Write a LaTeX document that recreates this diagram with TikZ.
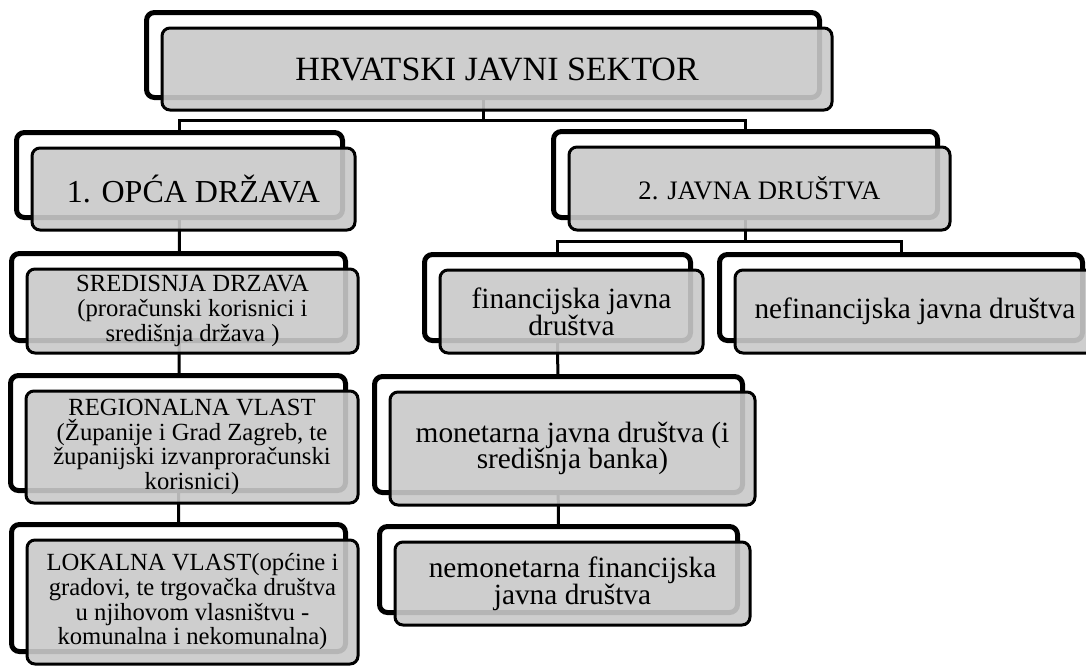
\documentclass[tikz,border=0pt]{standalone}
\usepackage{fontspec}
\setmainfont{Liberation Serif}
\usetikzlibrary{calc,fit}
\pgfdeclarelayer{links}
\pgfdeclarelayer{frames}
\pgfsetlayers{links,frames,main}
\def\px{0.75pt}
\tikzset{
  card/.style={draw=black,line width=2.25pt,rounded corners=6pt,fill=black!21,fill opacity=0.9,text opacity=1,align=center,inner sep=0pt},
  backcard/.style={draw=black,line width=3.75pt,rounded corners=6pt,fill=white,inner sep=0pt},
  link/.style={draw=black,line width=2.25pt},
  headfont/.style={font=\fontsize{#1}{#1}\selectfont},
  chainl/.style={font=\fontsize{18.5}{18.5}\selectfont},
  chainr/.style={font=\fontsize{22}{20}\selectfont}
}
\begin{document}
\begin{tikzpicture}[x=0.75pt,y=-0.75pt]
\useasboundingbox (0,0) rectangle (1086,668);
\node[card,headfont=25.5,minimum width=670*\px,minimum height=82*\px] (top) at (497,69) {HRVATSKI JAVNI SEKTOR};
\node[card,headfont=24,minimum width=323*\px,minimum height=82*\px] (opca) at (193.5,189) {1. OPĆA DRŽAVA};
\node[card,headfont=20,minimum width=381*\px,minimum height=83*\px] (javna) at (759.5,188.5) {2. JAVNA DRUŠTVA};
\node[card,chainl,minimum width=331*\px,minimum height=84*\px] (sred) at (192.5,311) {SREDISNJA DRZAVA\\(proračunski korisnici i\\središnja država )};
\node[card,chainl,minimum width=332*\px,minimum height=112*\px] (reg) at (192,447) {REGIONALNA VLAST\\(Županije i Grad Zagreb, te\\županijski izvanproračunski\\korisnici)};
\node[card,chainl,minimum width=331*\px,minimum height=124*\px] (lok) at (192.5,602) {LOKALNA VLAST(općine i\\gradovi, te trgovačka društva\\u njihovom vlasništvu -\\komunalna i nekomunalna)};
\node[card,chainr,minimum width=263*\px,minimum height=83*\px] (fin) at (571.5,311.5) {financijska javna\\društva};
\node[card,chainr,minimum width=360*\px,minimum height=83*\px] (nefin) at (915,311.5) {nefinancijska javna društva};
\node[card,chainr,minimum width=365*\px,minimum height=113*\px] (mon) at (572.5,448.5) {monetarna javna društva (i\\središnja banka)};
\node[card,chainr,minimum width=355*\px,minimum height=83*\px] (nemon) at (572.5,583.5) {nemonetarna financijska\\javna društva};
\begin{pgfonlayer}{frames}
\foreach \n in {top,opca,javna,sred,reg,lok,fin,nefin,mon,nemon}
  \node[backcard,fit=(\n),xshift=-14*\px,yshift=14*\px] (\n-b) {};
\end{pgfonlayer}
\begin{pgfonlayer}{links}
\coordinate (top-j) at ($(top.south)!.5!(opca-b.north)$);
\coordinate (javna-j) at ($(javna.south)!.5!(fin-b.north)$);
\draw[link] (opca-b.center) |- (top-j) -| (javna-b.center);
\draw[link] (top-b.center) -- (top-b.center |- top-j);
\draw[link] (fin-b.center) |- (javna-j) -| (nefin-b.center);
\draw[link] (javna-b.center) -- (javna-b.center |- javna-j);
\draw[link] (opca-b.center) -- (lok-b.center);
\draw[link] (fin-b.center) -- (nemon-b.center);
\end{pgfonlayer}
\end{tikzpicture}
\end{document}
